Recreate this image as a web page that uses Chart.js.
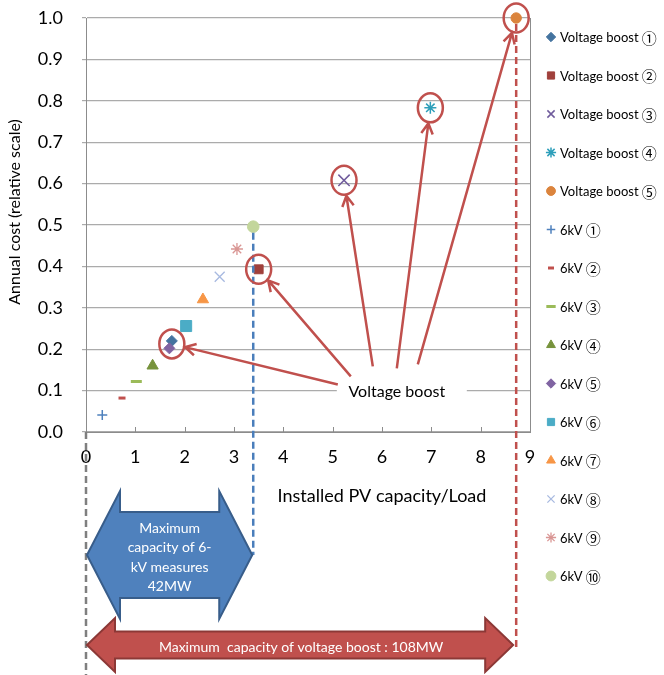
<!DOCTYPE html>
<html>
<head>
<meta charset="utf-8">
<script src="https://cdn.jsdelivr.net/npm/chart.js@4.4.1/dist/chart.umd.min.js"></script>
<style>
  html, body { margin: 0; padding: 0; background: #fff; }
  #wrap { width: 664px; height: 675px; }
</style>
</head>
<body>
<div id="wrap"><canvas id="c" width="664" height="675"></canvas></div>
<script>
// ─── DATA ─────────────────────────────────────────────────────────────────
const seriesNames = [
  'Voltage boost ①', 'Voltage boost ②', 'Voltage boost ③', 'Voltage boost ④', 'Voltage boost ⑤',
  '6kV ①', '6kV ②', '6kV ③', '6kV ④', '6kV ⑤', '6kV ⑥', '6kV ⑦', '6kV ⑧', '6kV ⑨', '6kV ⑩'
];
// installed PV capacity / load
const capacity   = [1.74, 3.50, 5.23, 6.98, 8.72, 0.33, 0.73, 1.02, 1.35, 1.69, 2.03, 2.37, 2.71, 3.06, 3.39];
// annual cost (relative)
const annualCost = [0.220, 0.393, 0.608, 0.783, 1.000, 0.041, 0.082, 0.122, 0.160, 0.202, 0.256, 0.320, 0.375, 0.442, 0.496];

const xTickValues = [0, 1, 2, 3, 4, 5, 6, 7, 8, 9];
const yTickValues = [0, 0.1, 0.2, 0.3, 0.4, 0.5, 0.6, 0.7, 0.8, 0.9, 1.0];

const boostLabel = 'Voltage boost';
const blueBoxText = ['Maximum', 'capacity of 6-', 'kV measures', '42MW'];
const redBoxText = 'Maximum  capacity of voltage boost : 108MW';

// ─── STYLES ───────────────────────────────────────────────────────────────
const STYLES = [
  { style: 'rectRot',  color: '#44739F', r: 5.5 },
  { style: 'rect',     color: '#A0403C', r: 6.3 },
  { style: 'crossRot', color: '#6F5B9C', r: 8,   bw: 1.5 },
  { style: 'star',     color: '#2E9FBA', r: 6,   bw: 1.5 },
  { style: 'circle',   color: '#DB843D', r: 5.2 },
  { style: 'cross',    color: '#4F81BD', r: 5,   bw: 1.5 },
  { style: 'line',     color: '#C0504D', r: 3.5, bw: 3 },
  { style: 'line',     color: '#9BBB59', r: 5.5, bw: 3 },
  { style: 'triangle', color: '#77933C', r: 6.5 },
  { style: 'rectRot',  color: '#8064A2', r: 5.5 },
  { style: 'rect',     color: '#4BACC6', r: 7.8 },
  { style: 'triangle', color: '#F79646', r: 6.5 },
  { style: 'crossRot', color: '#A7B9E0', r: 7,   bw: 1.3 },
  { style: 'star',     color: '#D99694', r: 6,   bw: 1.3 },
  { style: 'circle',   color: '#C3D69B', r: 5.8 },
];

const FONT = 'Lato, "Noto Sans CJK JP", sans-serif';
const CJK = '"Noto Sans CJK JP", "DejaVu Sans", sans-serif';
const RED = '#C0504D';

Chart.defaults.font.family = FONT;
Chart.defaults.color = '#000';

// ─── HELPERS ──────────────────────────────────────────────────────────────
function dashedLine(ctx, x, y1, y2, color) {
  ctx.save();
  ctx.strokeStyle = color;
  ctx.lineWidth = 2.5;
  ctx.setLineDash([7, 4]);
  ctx.beginPath();
  ctx.moveTo(x, y1);
  ctx.lineTo(x, y2);
  ctx.stroke();
  ctx.restore();
}

function doubleArrow(ctx, x1, x2, yc, headLen, headHalf, shaftHalf, fill, stroke) {
  ctx.save();
  ctx.beginPath();
  ctx.moveTo(x1, yc);
  ctx.lineTo(x1 + headLen, yc - headHalf);
  ctx.lineTo(x1 + headLen, yc - shaftHalf);
  ctx.lineTo(x2 - headLen, yc - shaftHalf);
  ctx.lineTo(x2 - headLen, yc - headHalf);
  ctx.lineTo(x2, yc);
  ctx.lineTo(x2 - headLen, yc + headHalf);
  ctx.lineTo(x2 - headLen, yc + shaftHalf);
  ctx.lineTo(x1 + headLen, yc + shaftHalf);
  ctx.lineTo(x1 + headLen, yc + headHalf);
  ctx.closePath();
  ctx.fillStyle = fill;
  ctx.fill();
  ctx.strokeStyle = stroke;
  ctx.lineWidth = 2;
  ctx.stroke();
  ctx.restore();
}

function arrow(ctx, sx, sy, tx, ty) {
  const a = Math.atan2(ty - sy, tx - sx);
  const L = 12, w = 0.5;
  ctx.beginPath();
  ctx.moveTo(sx, sy);
  ctx.lineTo(tx, ty);
  ctx.moveTo(tx - L * Math.cos(a - w), ty - L * Math.sin(a - w));
  ctx.lineTo(tx, ty);
  ctx.lineTo(tx - L * Math.cos(a + w), ty - L * Math.sin(a + w));
  ctx.stroke();
}

// ─── ANNOTATIONS ──────────────────────────────────────────────────────────
const annotations = {
  id: 'annotations',
  afterDraw(chart) {
    const { ctx, chartArea: ca, scales: { x, y } } = chart;
    const H = chart.height;

    // right border of plot area + inside ticks on x axis
    ctx.save();
    ctx.strokeStyle = '#8C8C8C';
    ctx.lineWidth = 1;
    ctx.beginPath();
    ctx.moveTo(ca.right + 0.5, ca.top);
    ctx.lineTo(ca.right + 0.5, ca.bottom);
    xTickValues.slice(1).forEach(v => {
      const px = Math.round(x.getPixelForValue(v)) + 0.5;
      ctx.moveTo(px, ca.bottom);
      ctx.lineTo(px, ca.bottom - 5);
    });
    ctx.stroke();
    ctx.restore();

    const x0 = x.getPixelForValue(0);
    const xBlue = x.getPixelForValue(capacity[14]);
    const xRed = x.getPixelForValue(capacity[4]);
    const blueY = 555, redY = 645;

    dashedLine(ctx, x0, ca.bottom, H, '#7F7F7F');
    dashedLine(ctx, xBlue, y.getPixelForValue(annualCost[14]) + 6, blueY, '#4A7EBB');
    dashedLine(ctx, xRed, y.getPixelForValue(annualCost[4]) + 6, redY + 3, RED);

    // circles around voltage boost points
    const rx = 12.5, ry = 14.5;
    ctx.save();
    ctx.strokeStyle = RED;
    ctx.lineWidth = 2.5;
    const centers = [0, 1, 2, 3, 4].map(i => ({
      cx: x.getPixelForValue(capacity[i]),
      cy: y.getPixelForValue(annualCost[i]) + (i === 0 ? 3 : 0)
    }));
    centers.forEach(c => {
      ctx.beginPath();
      ctx.ellipse(c.cx, c.cy, rx, ry, 0, 0, Math.PI * 2);
      ctx.stroke();
    });

    // label + arrows
    const lx = x.getPixelForValue(6.3), ly = y.getPixelForValue(0.098);
    ctx.fillStyle = '#fff';
    ctx.fillRect(lx - 60, ly - 11, 130, 22);
    const starts = [[-59, -7], [-46, -15], [-24, -25], [0, -23], [21, -27]];
    centers.forEach((c, i) => {
      const sx = lx + starts[i][0], sy = ly + starts[i][1];
      const dx = sx - c.cx, dy = sy - c.cy;
      const k = 1 / Math.sqrt((dx / rx) ** 2 + (dy / ry) ** 2);
      const tx = c.cx + dx * k * 1.08, ty = c.cy + dy * k * 1.08;
      arrow(ctx, sx, sy, tx, ty);
    });
    ctx.fillStyle = '#000';
    ctx.font = '16px ' + FONT;
    ctx.textAlign = 'center';
    ctx.textBaseline = 'middle';
    ctx.fillText(boostLabel, lx, ly);
    ctx.restore();

    // double-headed range arrows
    doubleArrow(ctx, x0 + 1, xBlue - 1, blueY, 33, 64, 43, '#4F81BD', '#385D8A');
    doubleArrow(ctx, x0 + 1, xRed - 3, redY, 28, 27, 13.5, '#C0504D', '#8C3836');

    ctx.save();
    ctx.fillStyle = '#fff';
    ctx.textAlign = 'center';
    ctx.textBaseline = 'middle';
    ctx.font = '14px ' + FONT;
    const bcx = (x0 + xBlue) / 2;
    blueBoxText.forEach((t, i) => ctx.fillText(t, bcx, 528 + i * 19.5));
    ctx.fillText(redBoxText, (x0 + xRed) / 2, redY + 2);
    ctx.restore();

    // axis titles
    ctx.save();
    ctx.fillStyle = '#000';
    ctx.textAlign = 'center';
    ctx.textBaseline = 'middle';
    ctx.font = '18px ' + FONT;
    ctx.fillText('Installed PV capacity/Load', x.getPixelForValue(6), 496);
    ctx.translate(15, 212);
    ctx.rotate(-Math.PI / 2);
    ctx.font = '16px ' + FONT;
    ctx.fillText('Annual cost (relative scale)', 0, 0);
    ctx.restore();

    // legend
    ctx.save();
    ctx.textAlign = 'left';
    ctx.textBaseline = 'middle';
    seriesNames.forEach((name, i) => {
      const s = STYLES[i];
      const ypos = 37 + i * 38.5;
      ctx.fillStyle = s.color;
      ctx.strokeStyle = s.color;
      ctx.lineWidth = s.bw || 1;
      Chart.helpers.drawPoint(ctx, {
        pointStyle: s.style, radius: Math.min(s.r, 6) * 0.85, borderWidth: s.bw || 1, rotation: 0
      }, 551, ypos);
      const cut = name.lastIndexOf(' ') + 1;
      const base = name.slice(0, cut), mark = name.slice(cut);
      ctx.fillStyle = '#000';
      ctx.font = '13px ' + FONT;
      ctx.fillText(base, 560, ypos + 1);
      const w = ctx.measureText(base).width;
      ctx.font = '15px ' + CJK;
      ctx.fillText(mark, 560 + w, ypos + 1);
    });
    ctx.restore();
  }
};

// ─── CHART ────────────────────────────────────────────────────────────────
const datasets = seriesNames.map((name, i) => {
  const s = STYLES[i];
  return {
    label: name,
    data: [{ x: capacity[i], y: annualCost[i] }],
    pointStyle: s.style,
    pointRadius: s.r,
    pointHoverRadius: s.r,
    backgroundColor: s.color,
    borderColor: s.color,
    pointBorderWidth: s.bw || 1,
    order: i < 5 ? 1 : 0,
    clip: false
  };
});

new Chart(document.getElementById('c'), {
  type: 'scatter',
  data: { datasets },
  plugins: [annotations],
  options: {
    responsive: false,
    animation: false,
    devicePixelRatio: 1,
    layout: { padding: { left: 0, right: 134, top: 18, bottom: 0 } },
    plugins: { legend: { display: false }, tooltip: { enabled: false } },
    scales: {
      x: {
        type: 'linear', min: 0, max: 9,
        afterBuildTicks: s => { s.ticks = xTickValues.map(v => ({ value: v })); },
        afterFit: s => { s.height = 243; s.paddingLeft = 0; s.paddingRight = 0; },
        ticks: { font: { size: 18 }, padding: 14, color: '#000', maxRotation: 0 },
        grid: { drawOnChartArea: false, drawTicks: false },
        border: { color: '#8C8C8C', width: 1 }
      },
      y: {
        type: 'linear', min: 0, max: 1,
        afterBuildTicks: s => { s.ticks = yTickValues.map(v => ({ value: v })); },
        afterFit: s => { s.width = 86; s.paddingTop = 0; s.paddingBottom = 0; },
        ticks: { font: { size: 18 }, padding: 19, color: '#000', callback: v => v.toFixed(1) },
        grid: { color: '#ABABAB', tickLength: 4, lineWidth: 1.2 },
        border: { color: '#8C8C8C', width: 1 }
      }
    }
  }
});
</script>
</body>
</html>
